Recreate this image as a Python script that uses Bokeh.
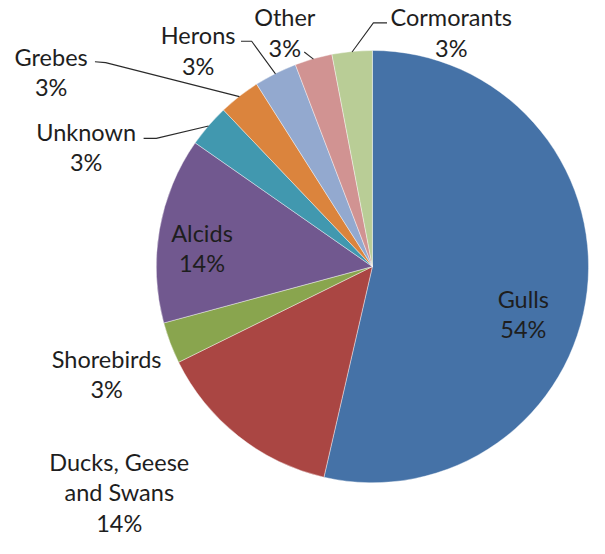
import math
from bokeh.plotting import figure
from bokeh.models import Range1d, ColumnDataSource
from bokeh.core.properties import value
from bokeh.embed import file_html
from bokeh.resources import INLINE

# ---- data ----
categories = ["Gulls", "Ducks, Geese\nand Swans", "Shorebirds", "Alcids", "Unknown",
              "Grebes", "Herons", "Other", "Cormorants"]
shares = [53.6, 14.1, 3.1, 13.9, 3.2, 3.1, 3.2, 2.8, 3.0]
colors = ["#4572A7", "#AA4643", "#89A54E", "#71588F", "#4198AF",
          "#DB843D", "#93A9CF", "#D19392", "#B9CD96"]

# ---- layout (reference pixel coords, y down) ----
W, H = 605, 554
CX, CY, R = 382, 274, 222
label_pos = [(537, 307), (122, 475), (109, 369), (207, 239), (88, 135),
             (52, 58), (203, 36), (292, 17), (463, 17)]
leader_start = [None, None, None, None,
                [(147, 142), (160, 142)],
                [(97, 63), (108, 64)],
                [(247, 42), (258, 42)],
                [(312, 53)],
                [(397, 23), (383, 23)]]
LINE_STEP = 31.5
FONT = "Lato"
FONT_SIZE = "23.5px"

def dy(y):
    return H - y

p = figure(width=W - 16, height=H - 16, output_backend="svg", toolbar_location=None,
           x_range=Range1d(0, W), y_range=Range1d(0, H),
           min_border=0, outline_line_color=None)
p.axis.visible = False
p.grid.visible = False
p.background_fill_color = "white"
p.border_fill_color = "white"

total = sum(shares)
starts, ends, mids = [], [], []
cum = 0.0
for s in shares:
    a0 = cum / total * 2 * math.pi
    cum += s
    a1 = cum / total * 2 * math.pi
    starts.append(math.pi / 2 - a0)
    ends.append(math.pi / 2 - a1)
    mids.append((a0 + a1) / 2)

src = ColumnDataSource(dict(start=starts, end=ends, color=colors))
p.wedge(x=CX, y=dy(CY), radius=R, start_angle="start", end_angle="end",
        direction="clock", fill_color="color", line_color="white", line_alpha=0.5,
        line_width=0.8, source=src)

# leader lines
for i, pts in enumerate(leader_start):
    if pts is None:
        continue
    ex = CX + R * math.sin(mids[i])
    ey = CY - R * math.cos(mids[i])
    xs = [q[0] for q in pts] + [ex]
    ys = [dy(q[1]) for q in pts] + [dy(ey)]
    p.line(xs, ys, line_color="#2b2b2b", line_width=1.1)

# labels
tx, ty, tt = [], [], []
for i, name in enumerate(categories):
    lines = name.split("\n") + [f"{shares[i] / total * 100:.0f}%"]
    x0, y0 = label_pos[i]
    for k, ln in enumerate(lines):
        tx.append(x0)
        ty.append(dy(y0 + k * LINE_STEP))
        tt.append(ln)
p.text(x=tx, y=ty, text=tt, text_align="center", text_baseline="middle",
       text_font=value(FONT), text_font_size=FONT_SIZE, text_color="#1e1e1e")

open("out.html", "w").write(file_html(p, INLINE))
